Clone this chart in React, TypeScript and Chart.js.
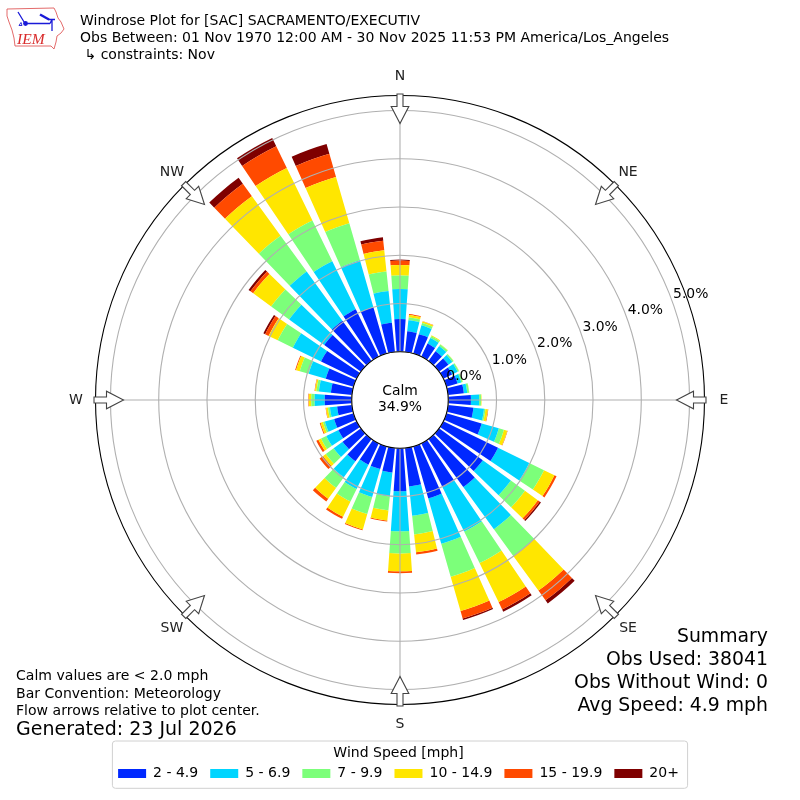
import React, { useEffect, useRef } from "react";
import { Chart, registerables, PolarAreaController } from "chart.js";

const compass = [["N",0],["NE",45],["E",90],["SE",135],["S",180],["SW",225],["W",270],["NW",315]] as [string, number][];
const bearings = ["0","10","20","30","40","50","60","70","80","90","100","110","120","130","140","150","160","170","180","190","200","210","220","230","240","250","260","270","280","290","300","310","320","330","340","350"];
const speedBins = ["2 - 4.9","5 - 6.9","7 - 9.9","10 - 14.9","15 - 19.9","20+"];
const binColors = ["#0028ff","#00d5ff","#7cff7a","#ffe600","#ff4a00","#7f0000"];
const s2to5 = [.68,.43,.42,.30,.25,.24,.20,.24,.33,.47,.53,.76,1.26,1.12,1.23,1.01,1.12,.80,.89,.51,.49,.49,.57,.47,.42,.42,.31,.56,.44,.60,.82,.94,1.03,1.09,1.00,.61];
const s5to7 = [.62,.23,.19,.13,.13,.10,.13,.08,.07,.17,.22,.37,.72,.72,1.08,1.02,.98,.61,.83,.50,.60,.56,.41,.23,.28,.20,.15,.21,.25,.37,.65,.90,1.26,1.11,1.01,.66];
const s7to10 = [.28,.06,.05,.04,.04,.03,.03,.03,.04,.04,.03,.11,.34,.36,.69,.73,.71,.39,.46,.29,.37,.29,.27,.20,.12,.04,.04,.07,.05,.19,.35,.46,.92,.94,.80,.41];
const s10to15 = [.22,.05,.03,.02,.01,.005,.005,.005,.005,.01,.05,.07,.24,.33,.88,.90,.74,.37,.37,.21,.33,.35,.28,.07,.06,.05,.04,.05,.03,.08,.21,.46,1.01,1.21,1.00,.44];
const s15to20 = [.09,.02,.01,0,0,0,0,0,0,0,.01,.01,.05,.05,.25,.17,.16,.05,.04,.02,.02,.05,.07,.09,.05,.02,.01,.01,.01,.02,.08,.07,.32,.50,.50,.20];
const s20plus = [.02,0,0,0,0,0,0,0,0,0,0,0,0,.03,.08,.05,.03,0,0,0,0,0,0,0,0,0,0,0,0,0,.04,.05,.15,.19,.21,.07];
const binValues = [s2to5,s5to7,s7to10,s10to15,s15to20,s20plus];
const radialTicks = [0,1,2,3,4,5];
const axisMin = -1;
const axisMax = 5.31;
const barSpanDeg = 8;
const titleLines = ["Windrose Plot for [SAC] SACRAMENTO/EXECUTIV","Obs Between: 01 Nov 1970 12:00 AM - 30 Nov 2025 11:53 PM America/Los_Angeles"," \u21b3 constraints: Nov"];
const noteLines = ["Calm values are < 2.0 mph","Bar Convention: Meteorology","Flow arrows relative to plot center."];
const generatedLine = "Generated: 23 Jul 2026";
const summaryLines = ["Summary","Obs Used: 38041","Obs Without Wind: 0","Avg Speed: 4.9 mph"];
const calmLines = ["Calm","34.9%"];
const FONT = '"DejaVu Sans"';

class WindRoseController extends PolarAreaController {
  static id = "windRose";
  updateElement(el: any, index: number, props: any, mode: any) {
    if (props && props.startAngle !== undefined) {
      const scale = (this as any)._cachedMeta.rScale;
      const sets = this.chart.data.datasets;
      let base = 0;
      for (let k = 0; k < this.index; k++) base += sets[k].data[index] as number;
      const top = base + (sets[this.index].data[index] as number);
      const half = (barSpanDeg * Math.PI) / 360;
      const mid = props.startAngle;
      props.innerRadius = scale.getDistanceFromCenterForValue(base);
      props.outerRadius = scale.getDistanceFromCenterForValue(top);
      props.startAngle = mid - half;
      props.endAngle = mid + half;
    }
    super.updateElement(el, index, props, mode);
  }
}
Chart.register(...registerables, WindRoseController as any);

function drawLogo(ctx: CanvasRenderingContext2D) {
  ctx.save();
  ctx.strokeStyle = "#e05a5a"; ctx.lineWidth = 0.9;
  ctx.beginPath();
  [[7,9],[54,8],[56,12],[58,18],[61,22],[64,29],[61,33],[57,36],[56,42],[54,49],[51,46],[15,46],[14,38],[12,30],[9,22],[7,16]].forEach((p,i)=> i? ctx.lineTo(p[0],p[1]) : ctx.moveTo(p[0],p[1]));
  ctx.closePath(); ctx.stroke();
  ctx.fillStyle = "#d92b2b"; ctx.font = 'italic 15.5px "Liberation Serif"'; ctx.textAlign="left"; ctx.textBaseline="alphabetic";
  ctx.fillText("IEM",17,44);
  ctx.strokeStyle = "#1a1ad8"; ctx.fillStyle="#1a1ad8"; ctx.lineWidth=1.3;
  ctx.beginPath(); ctx.moveTo(25,23.5); ctx.lineTo(50,23.5); ctx.moveTo(25,23.5); ctx.lineTo(18,12); ctx.moveTo(52,19.5); ctx.lineTo(52,31); ctx.moveTo(48,19.5); ctx.lineTo(55,19.5); ctx.moveTo(50,23.5); ctx.lineTo(52,19.5); ctx.stroke();
  ctx.lineWidth=2.4;
  ctx.beginPath(); ctx.moveTo(40,14.5); ctx.lineTo(49,19.5); ctx.stroke();
  ctx.beginPath(); ctx.arc(25.5,23.5,2.4,0,7); ctx.fill();
  ctx.lineWidth=0.9;
  ctx.beginPath(); ctx.moveTo(19,25.5); ctx.lineTo(21,22.5); ctx.lineTo(22,25.5); ctx.closePath(); ctx.stroke();
  ctx.restore();
}

const rosePlugin = {
  id: "roseDecor",
  afterDraw(chart: any) {
    const { ctx } = chart; const r = chart.scales.r;
    ctx.save();
    ctx.fillStyle="#fff"; ctx.strokeStyle="#000"; ctx.lineWidth=1.1;
    ctx.beginPath(); ctx.arc(r.xCenter,r.yCenter,r.getDistanceFromCenterForValue(0),0,Math.PI*2); ctx.fill(); ctx.stroke();
    ctx.fillStyle="#000"; ctx.textAlign="center"; ctx.textBaseline="middle"; ctx.font=`13.9px ${FONT}`;
    ctx.fillText(calmLines[0],r.xCenter,391); ctx.fillText(calmLines[1],r.xCenter,407.5);
    ctx.textAlign="left"; ctx.textBaseline="alphabetic";
    radialTicks.forEach(v=>{ const p=r.getPointPosition(7,r.getDistanceFromCenterForValue(v)); ctx.fillText(v.toFixed(1)+"%",p.x+1,p.y-3.3); });
    compass.forEach(([name,deg])=>{
      const idx=deg/10; const rad=r.drawingArea;
      const a=r.getPointPosition(idx,rad).angle; const c=Math.cos(a), s=Math.sin(a);
      const pt=(d:number,o:number)=>[r.xCenter+c*d-s*o,r.yCenter+s*d+c*o];
      const poly=[pt(rad+1.5,-3),pt(rad-11,-3),pt(rad-11,-8.8),pt(rad-28,0),pt(rad-11,8.8),pt(rad-11,3),pt(rad+1.5,3)];
      ctx.beginPath(); poly.forEach((p,i)=> i?ctx.lineTo(p[0],p[1]):ctx.moveTo(p[0],p[1])); ctx.closePath();
      ctx.fillStyle="#fff"; ctx.fill(); ctx.strokeStyle="#444"; ctx.lineWidth=1.1; ctx.stroke();
      const q=r.getPointPosition(idx,deg%90===0?324:322.5);
      ctx.fillStyle="#222"; ctx.textAlign="center"; ctx.textBaseline="middle"; ctx.font=`14px ${FONT}`;
      ctx.fillText(name,q.x,q.y);
    });
    ctx.fillStyle="#000"; ctx.textAlign="left"; ctx.textBaseline="alphabetic"; ctx.font=`14px ${FONT}`;
    titleLines.forEach((t,i)=>ctx.fillText(t,80,25+i*17));
    ctx.font=`14.05px ${FONT}`;
    noteLines.forEach((t,i)=>ctx.fillText(t,16,680+i*17.5));
    ctx.font=`19px ${FONT}`;
    ctx.fillText(generatedLine,16,735);
    ctx.font=`18.85px ${FONT}`;
    ctx.textAlign="right";
    summaryLines.forEach((t,i)=>ctx.fillText(t,768,642+i*23));
    const hb=chart.legend.legendHitBoxes;
    const left=hb[0].left-5.7;
    ctx.strokeStyle="#d0d0d0"; ctx.lineWidth=1;
    ctx.beginPath(); ctx.roundRect(left,741,2*(r.xCenter-left),47.3,3); ctx.stroke();
    drawLogo(ctx);
    ctx.restore();
  },
};

export default function App() {
  const ref = useRef<HTMLCanvasElement>(null);
  useEffect(() => {
    const chart = new Chart(ref.current as any, {
      type: "windRose" as any,
      data: {
        labels: bearings,
        datasets: speedBins.map((label, i) => ({ label, data: binValues[i], backgroundColor: binColors[i], borderWidth: 0 })),
      },
      options: {
        responsive: false, animation: false, devicePixelRatio: 1,
        layout: { padding: { top: 0, left: 0, right: 3, bottom: 9.4 } },
        scales: {
          r: {
            min: axisMin, max: axisMax,
            afterBuildTicks: (s: any) => { s.ticks = [...radialTicks, axisMax].map((value) => ({ value })); },
            afterFit: (s: any) => { s.drawingArea = 304.5; s.xCenter = 400; s.yCenter = 400; },
            ticks: { display: false },
            pointLabels: { display: false },
            angleLines: { display: true, lineWidth: 1.1, color: (c: any) => (c.index % 9 === 0 ? "#b0b0b0" : "rgba(0,0,0,0)") },
            grid: { z: 1, circular: true, lineWidth: 1.1, color: (c: any) => (c.tick && c.tick.value === axisMax ? "#000" : "#b0b0b0") },
          } as any,
        },
        plugins: {
          tooltip: { enabled: false },
          legend: {
            position: "bottom",
            title: { display: true, text: "Wind Speed [mph]", color: "#000", font: { family: FONT, size: 14 }, padding: { top: 2, bottom: -9 } },
            labels: {
              boxWidth: 28, boxHeight: 9, padding: 12, color: "#222", font: { family: FONT, size: 14 },
              generateLabels: (c: any) => c.data.datasets.map((d: any, i: number) => ({ text: d.label, fillStyle: d.backgroundColor, strokeStyle: d.backgroundColor, lineWidth: 0, datasetIndex: i, hidden: false })),
            },
          },
        } as any,
      },
      plugins: [rosePlugin],
    } as any);
    return () => chart.destroy();
  }, []);
  return <canvas ref={ref} width={800} height={800} style={{ position: "absolute", left: 0, top: 0, display: "block" }} />;
}
